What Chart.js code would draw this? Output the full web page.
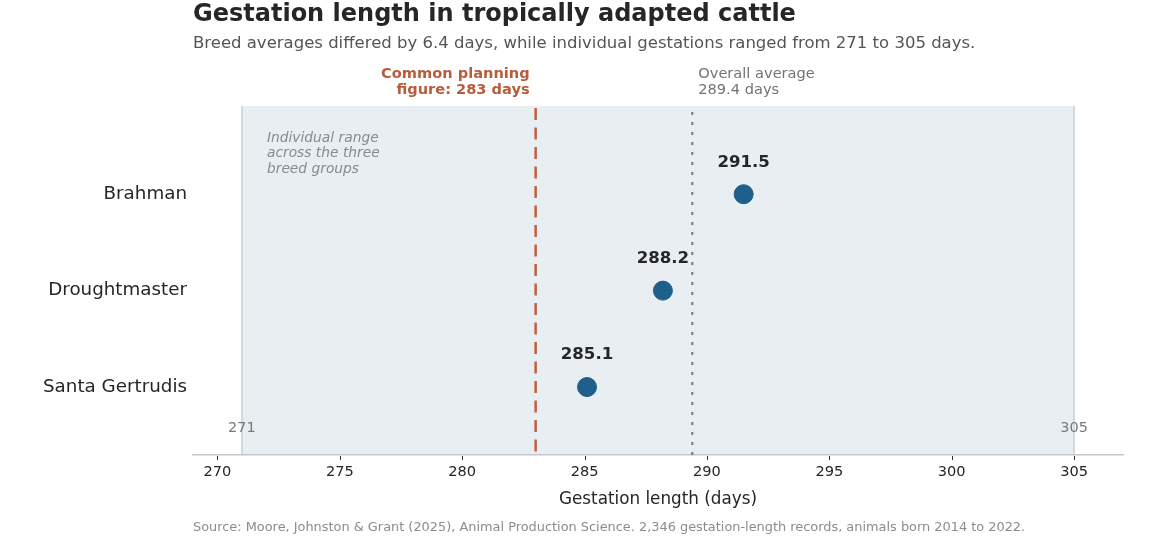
<!DOCTYPE html>
<html>
<head>
<meta charset="utf-8">
<script src="https://cdn.jsdelivr.net/npm/chart.js@4/dist/chart.umd.min.js"></script>
<style>
  html, body { margin: 0; padding: 0; background: #fff; }
  #wrap { width: 1153px; height: 548px; position: relative; }
</style>
</head>
<body>
<div id="wrap"><canvas id="chart"></canvas></div>
<script>
const breeds     = ['Santa Gertrudis', 'Droughtmaster', 'Brahman'];
const breedMeans = [285.1, 288.2, 291.5];
const rangeMin   = 271;
const rangeMax   = 305;
const planningFigure = 283;
const overallAverage = 289.4;
const xTicks     = [270, 275, 280, 285, 290, 295, 300, 305];

const FONT = '"DejaVu Sans", sans-serif';

const overlay = {
  id: 'overlay',
  beforeDraw(chart) {
    const { ctx, chartArea: a, scales: { x } } = chart;
    const x0 = x.getPixelForValue(rangeMin);
    const x1 = x.getPixelForValue(rangeMax);
    ctx.save();
    // individual range band
    ctx.fillStyle = '#e9eef2';
    ctx.fillRect(x0, a.top, x1 - x0, a.bottom - a.top);
    ctx.strokeStyle = '#c9d1d8';
    ctx.lineWidth = 1.5;
    ctx.beginPath();
    ctx.moveTo(x0, a.top); ctx.lineTo(x0, a.bottom);
    ctx.moveTo(x1, a.top); ctx.lineTo(x1, a.bottom);
    ctx.stroke();
    ctx.restore();
  },
  beforeDatasetsDraw(chart) {
    const { ctx, chartArea: a, scales: { x } } = chart;
    const x0 = x.getPixelForValue(rangeMin);
    const x1 = x.getPixelForValue(rangeMax);
    ctx.save();
    // planning figure
    const xp = x.getPixelForValue(planningFigure);
    ctx.strokeStyle = '#c0603f';
    ctx.lineWidth = 2.5;
    ctx.setLineDash([12, 7.5]);
    ctx.beginPath(); ctx.moveTo(xp, a.top + 2); ctx.lineTo(xp, a.bottom); ctx.stroke();

    // overall average
    const xa = x.getPixelForValue(overallAverage);
    ctx.strokeStyle = '#7a8088';
    ctx.lineWidth = 2.2;
    ctx.setLineDash([3, 7]);
    ctx.beginPath(); ctx.moveTo(xa, a.top + 6); ctx.lineTo(xa, a.bottom); ctx.stroke();
    ctx.setLineDash([]);

    // tick marks
    ctx.strokeStyle = '#333';
    ctx.lineWidth = 1;
    ctx.beginPath();
    xTicks.forEach(v => {
      const px = Math.round(x.getPixelForValue(v)) + 0.5;
      ctx.moveTo(px, a.bottom + 1); ctx.lineTo(px, a.bottom + 5);
    });
    ctx.stroke();

    // range ends
    ctx.fillStyle = '#737b84';
    ctx.font = '14.5px ' + FONT;
    ctx.textAlign = 'center';
    ctx.textBaseline = 'middle';
    ctx.fillText(String(rangeMin), x0, 428);
    ctx.fillText(String(rangeMax), x1, 428);

    // band note
    ctx.fillStyle = '#838b93';
    ctx.font = 'italic 13.8px ' + FONT;
    ctx.textAlign = 'left';
    ['Individual range', 'across the three', 'breed groups'].forEach((t, i) => {
      ctx.fillText(t, x0 + 25, 138 + i * 15.5);
    });

    // line annotations
    ctx.fillStyle = '#b85c3c';
    ctx.font = 'bold 14.6px ' + FONT;
    ctx.textAlign = 'right';
    ctx.fillText('Common planning', xp - 6, 74);
    ctx.fillText('figure: 283 days', xp - 6, 90);

    ctx.fillStyle = '#737373';
    ctx.font = '14.6px ' + FONT;
    ctx.textAlign = 'left';
    ctx.fillText('Overall average', xa + 6, 74);
    ctx.fillText('289.4 days', xa + 6, 90);
    ctx.restore();
  },
  afterDatasetsDraw(chart) {
    const { ctx, scales: { x, y } } = chart;
    ctx.save();
    ctx.fillStyle = '#262626';
    ctx.font = 'bold 16.6px ' + FONT;
    ctx.textAlign = 'center';
    ctx.textBaseline = 'middle';
    breedMeans.forEach((v, i) => {
      ctx.fillText(v.toFixed(1), x.getPixelForValue(v), y.getPixelForValue(i + 1) - 32);
    });
    ctx.restore();
  },
  afterDraw(chart) {
    const { ctx } = chart;
    ctx.save();
    ctx.textAlign = 'left';
    ctx.textBaseline = 'middle';
    ctx.fillStyle = '#262626';
    ctx.font = 'bold 24px ' + FONT;
    ctx.fillText('Gestation length in tropically adapted cattle', 193, 15);
    ctx.fillStyle = '#555555';
    ctx.font = '16.5px ' + FONT;
    ctx.fillText('Breed averages differed by 6.4 days, while individual gestations ranged from 271 to 305 days.', 193, 44);
    ctx.fillStyle = '#8c8c8c';
    ctx.font = '12.9px ' + FONT;
    ctx.fillText('Source: Moore, Johnston & Grant (2025), Animal Production Science. 2,346 gestation-length records, animals born 2014 to 2022.', 193, 528);
    ctx.restore();
  }
};

new Chart(document.getElementById('chart'), {
  type: 'scatter',
  data: {
    datasets: [{
      data: breedMeans.map((v, i) => ({ x: v, y: i + 1 })),
      backgroundColor: '#1f5f8b',
      borderColor: '#1f5f8b',
      pointRadius: 9.5,
      pointHoverRadius: 9.5,
    }],
  },
  options: {
    responsive: true,
    maintainAspectRatio: false,
    animation: false,
    layout: { padding: { top: 106, right: 30, left: 0, bottom: 38 } },
    plugins: { legend: { display: false }, tooltip: { enabled: false } },
    scales: {
      x: {
        type: 'linear',
        min: 269,
        max: 307,
        afterBuildTicks: s => { s.ticks = xTicks.map(v => ({ value: v })); },
        afterFit: s => { s.height = 55; },
        border: { display: true, color: '#c3c7cb', width: 1.5 },
        grid: { display: false },
        ticks: { color: '#262626', font: { family: FONT, size: 14.6 }, padding: 0, maxRotation: 0 },
        title: { display: true, text: 'Gestation length (days)', color: '#262626', font: { family: FONT, size: 16.8 }, padding: 0 },
      },
      y: {
        type: 'linear',
        min: 0.295,
        max: 3.915,
        afterBuildTicks: s => { s.ticks = [1, 2, 3].map(v => ({ value: v })); },
        afterFit: s => { s.width = 193; },
        border: { display: false },
        grid: { display: false, drawTicks: false },
        ticks: {
          color: '#262626',
          font: { family: FONT, size: 18.3 },
          padding: 6,
          callback: v => breeds[v - 1] || '',
        },
      },
    },
  },
  plugins: [overlay],
});
</script>
</body>
</html>
